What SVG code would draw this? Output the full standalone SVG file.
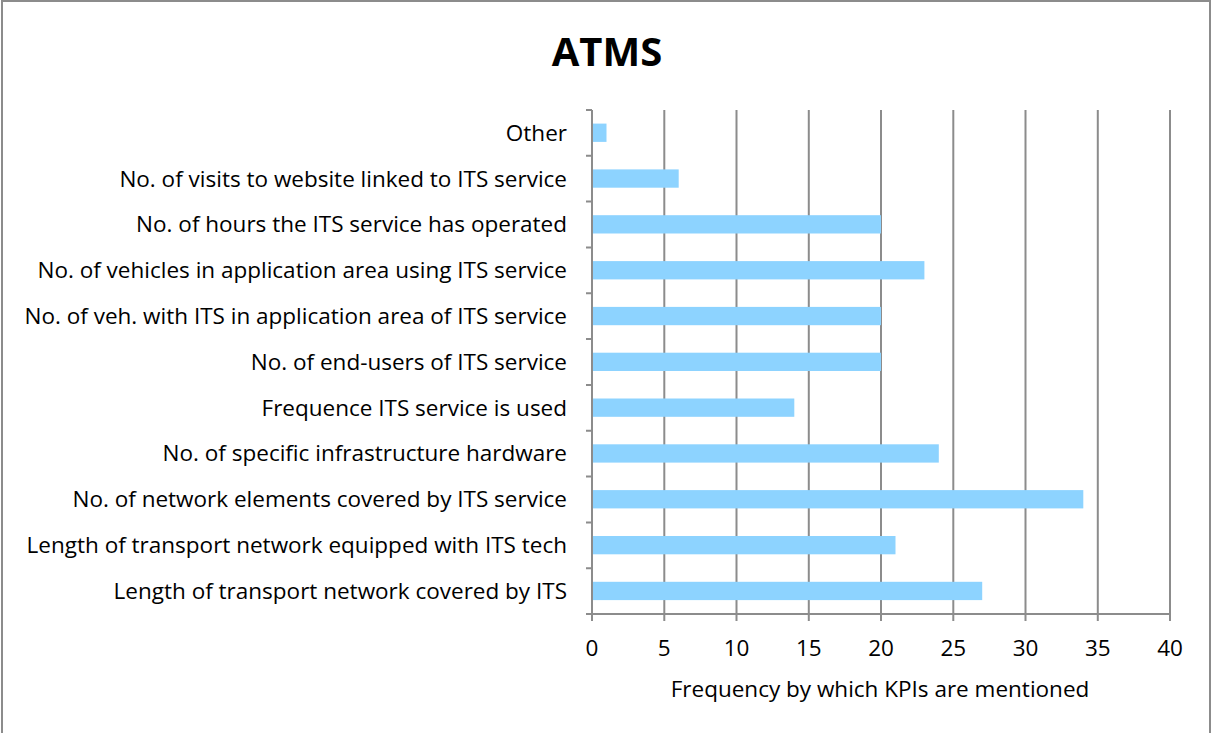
<svg xmlns="http://www.w3.org/2000/svg" width="1212" height="733" viewBox="0 0 1212 733">
<style>
.frame{fill:#fff;stroke:#8c8c8c;stroke-width:2}
.grid{stroke:#8c8c8c;stroke-width:2}
.axis{stroke:#8c8c8c;stroke-width:2;fill:none}
.bar{fill:#8dd3ff}
.lbl{font-family:"Open Sans","Noto Sans",sans-serif;font-size:22.5px;fill:#000;text-anchor:end}
.tick{font-family:"Open Sans","Noto Sans",sans-serif;font-size:22.5px;fill:#000;text-anchor:middle}
.title{font-family:"Open Sans","Noto Sans",sans-serif;font-size:40px;font-weight:bold;fill:#000;text-anchor:middle}
</style>
<rect class="frame" x="2" y="1" width="1208" height="740"/>
<text class="title" x="607" y="66">ATMS</text>
<g id="grid">
<line class="grid" x1="664.3" y1="110" x2="664.3" y2="614"/>
<line class="grid" x1="736.5" y1="110" x2="736.5" y2="614"/>
<line class="grid" x1="808.8" y1="110" x2="808.8" y2="614"/>
<line class="grid" x1="881" y1="110" x2="881" y2="614"/>
<line class="grid" x1="953.3" y1="110" x2="953.3" y2="614"/>
<line class="grid" x1="1025.5" y1="110" x2="1025.5" y2="614"/>
<line class="grid" x1="1097.8" y1="110" x2="1097.8" y2="614"/>
<line class="grid" x1="1170" y1="110" x2="1170" y2="614"/>
</g>
<g id="bars">
<rect class="bar" x="593" y="123.6" width="13.5" height="18.3"/>
<rect class="bar" x="593" y="169.4" width="85.7" height="18.3"/>
<rect class="bar" x="593" y="215.2" width="288" height="18.3"/>
<rect class="bar" x="593" y="261.1" width="331.4" height="18.3"/>
<rect class="bar" x="593" y="306.9" width="288" height="18.3"/>
<rect class="bar" x="593" y="352.7" width="288" height="18.3"/>
<rect class="bar" x="593" y="398.5" width="201.3" height="18.3"/>
<rect class="bar" x="593" y="444.3" width="345.8" height="18.3"/>
<rect class="bar" x="593" y="490.1" width="490.3" height="18.3"/>
<rect class="bar" x="593" y="536" width="302.5" height="18.3"/>
<rect class="bar" x="593" y="581.8" width="389.2" height="18.3"/>
</g>
<g id="axes">
<path class="axis" d="M592 110 V614 H1170"/>
<path class="axis" d="M586 110 H592 M586 155.8 H592 M586 201.6 H592 M586 247.5 H592 M586 293.3 H592 M586 339.1 H592 M586 384.9 H592 M586 430.7 H592 M586 476.5 H592 M586 522.4 H592 M586 568.2 H592 M586 614 H592"/>
<path class="axis" d="M592 614 V621 M664.3 614 V621 M736.5 614 V621 M808.8 614 V621 M881 614 V621 M953.3 614 V621 M1025.5 614 V621 M1097.8 614 V621 M1170 614 V621"/>
</g>
<g id="labels">
<text class="lbl" x="567" y="140.5">Other</text>
<text class="lbl" x="567" y="186.5">No. of visits to website linked to ITS service</text>
<text class="lbl" x="567" y="232">No. of hours the ITS service has operated</text>
<text class="lbl" x="567" y="278">No. of vehicles in application area using ITS service</text>
<text class="lbl" x="567" y="323.5">No. of veh. with ITS in application area of ITS service</text>
<text class="lbl" x="567" y="369.5">No. of end-users of ITS service</text>
<text class="lbl" x="567" y="415.5">Frequence ITS service is used</text>
<text class="lbl" x="567" y="461">No. of specific infrastructure hardware</text>
<text class="lbl" x="567" y="507">No. of network elements covered by ITS service</text>
<text class="lbl" x="567" y="553">Length of transport network equipped with ITS tech</text>
<text class="lbl" x="567" y="598.5">Length of transport network covered by ITS</text>
</g>
<g id="ticks">
<text class="tick" x="592" y="656">0</text>
<text class="tick" x="664.3" y="656">5</text>
<text class="tick" x="736.5" y="656">10</text>
<text class="tick" x="808.8" y="656">15</text>
<text class="tick" x="881" y="656">20</text>
<text class="tick" x="953.3" y="656">25</text>
<text class="tick" x="1025.5" y="656">30</text>
<text class="tick" x="1097.8" y="656">35</text>
<text class="tick" x="1170" y="656">40</text>
</g>
<text class="tick" x="880" y="697">Frequency by which KPIs are mentioned</text>
</svg>
